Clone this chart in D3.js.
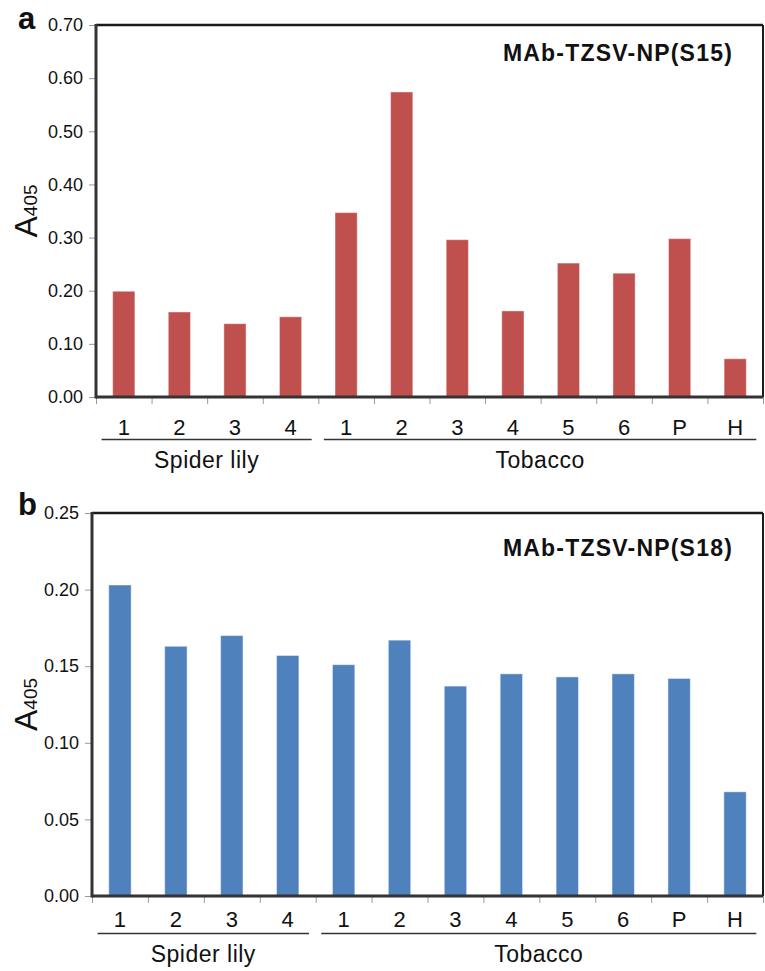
<!DOCTYPE html>
<html>
<head>
<meta charset="utf-8">
<script src="https://cdn.jsdelivr.net/npm/d3@7"></script>
<style>
  body { margin: 0; background: #fff; }
  svg text { font-family: "Liberation Sans", Arial, sans-serif; fill: #111; }
  .tick line { stroke: #999; }
</style>
</head>
<body>
<script>
// categories along the x axis (same for both panels)
var categories = ["1", "2", "3", "4", "1", "2", "3", "4", "5", "6", "P", "H"];
var groupNames = ["Spider lily", "Tobacco"];
var groupStart = [0, 4];
var groupEnd = [3, 11];

// A405 readings, panel a (S15) and panel b (S18)
var valuesS15 = [0.199, 0.160, 0.138, 0.151, 0.347, 0.574, 0.296, 0.162, 0.252, 0.233, 0.298, 0.072];
var valuesS18 = [0.203, 0.163, 0.170, 0.157, 0.151, 0.167, 0.137, 0.145, 0.143, 0.145, 0.142, 0.068];

var yTicksA = [0, 0.1, 0.2, 0.3, 0.4, 0.5, 0.6, 0.7];
var yTicksB = [0, 0.05, 0.1, 0.15, 0.2, 0.25];

var svg = d3.select("body").append("svg")
  .attr("width", 765)
  .attr("height", 971);

drawPanel({
  letter: "a", title: "MAb-TZSV-NP(S15)", values: valuesS15, ticks: yTicksA,
  color: "#C0504D", left: 96, right: 763, top: 25, bottom: 397,
  labelPad: 22, lineOff: 42.5, groupOff: 71, titleOff: 36, letterOff: 4
});
drawPanel({
  letter: "b", title: "MAb-TZSV-NP(S18)", values: valuesS18, ticks: yTicksB,
  color: "#4F81BD", left: 92, right: 763, top: 513, bottom: 896,
  labelPad: 15.5, lineOff: 37.5, groupOff: 65.5, titleOff: 43, letterOff: 2
});

function drawPanel(p) {
  var g = svg.append("g");

  var x = d3.scaleBand()
    .domain(d3.range(categories.length))
    .range([p.left, p.right])
    .paddingInner(0.6)
    .paddingOuter(0.3);

  // edges between categories, for the small grey ticks
  var xEdge = d3.scaleLinear()
    .domain([0, categories.length])
    .range([p.left, p.right]);

  var y = d3.scaleLinear()
    .domain([0, d3.max(p.ticks)])
    .range([p.bottom, p.top]);

  // bars
  g.selectAll("rect.bar")
    .data(p.values)
    .enter().append("rect")
      .attr("class", "bar")
      .attr("x", function(d, i) { return x(i); })
      .attr("width", x.bandwidth())
      .attr("y", function(d) { return y(d); })
      .attr("height", function(d) { return y(0) - y(d); })
      .style("fill", p.color)
      .style("stroke", "rgba(255,255,255,0.45)")
      .style("stroke-width", 1);

  // y axis
  var yAxis = g.append("g")
    .attr("transform", "translate(" + p.left + ",0)")
    .call(d3.axisLeft(y)
      .tickValues(p.ticks)
      .tickFormat(d3.format(".2f"))
      .tickSize(7)
      .tickPadding(6));
  yAxis.select(".domain").remove();
  yAxis.selectAll("text").style("font-size", "18px");

  // x edge ticks
  var xTicks = g.append("g")
    .attr("transform", "translate(0," + p.bottom + ")")
    .call(d3.axisBottom(xEdge)
      .tickValues(d3.range(categories.length + 1))
      .tickFormat("")
      .tickSize(7));
  xTicks.select(".domain").remove();

  // category labels
  var xAxis = g.append("g")
    .attr("transform", "translate(0," + p.bottom + ")")
    .call(d3.axisBottom(x)
      .tickFormat(function(i) { return categories[i]; })
      .tickSize(0)
      .tickPadding(p.labelPad));
  xAxis.select(".domain").remove();
  xAxis.selectAll("text").style("font-size", "22px");

  // frame
  g.append("line").attr("x1", p.left).attr("x2", p.right).attr("y1", p.top).attr("y2", p.top)
    .style("stroke", "#1a1a1a").style("stroke-width", 2.5);
  g.append("line").attr("x1", p.right).attr("x2", p.right).attr("y1", p.top).attr("y2", p.bottom)
    .style("stroke", "#1a1a1a").style("stroke-width", 2);
  g.append("line").attr("x1", p.left).attr("x2", p.right).attr("y1", p.bottom).attr("y2", p.bottom)
    .style("stroke", "#333").style("stroke-width", 3);
  g.append("line").attr("x1", p.left).attr("x2", p.left).attr("y1", p.top - 1).attr("y2", p.bottom + 1.5)
    .style("stroke", "#333").style("stroke-width", 3);

  // group underlines + names
  for (var k = 0; k < groupNames.length; k++) {
    var x1 = xEdge(groupStart[k] + 0.1),
        x2 = xEdge(groupEnd[k] + 1 - 0.12);
    g.append("line")
      .attr("x1", x1).attr("x2", x2)
      .attr("y1", p.bottom + p.lineOff).attr("y2", p.bottom + p.lineOff)
      .style("stroke", "#333").style("stroke-width", 1.5);
    g.append("text")
      .attr("x", (x1 + x2) / 2)
      .attr("y", p.bottom + p.groupOff)
      .style("text-anchor", "middle")
      .style("font-size", "23px")
      .style("letter-spacing", "0.5px")
      .text(groupNames[k]);
  }

  // title inside the plot
  g.append("text")
    .attr("x", p.right - 30)
    .attr("y", p.top + p.titleOff)
    .style("text-anchor", "end")
    .style("font-size", "23px")
    .style("font-weight", "bold")
    .style("letter-spacing", "1.2px")
    .text(p.title);

  // panel letter
  g.append("text")
    .attr("x", 18)
    .attr("y", p.top + p.letterOff)
    .style("font-size", "31px")
    .style("font-weight", "bold")
    .text(p.letter);

  // y label A405
  var cy = (p.top + p.bottom) / 2;
  var lab = g.append("text")
    .attr("transform", "translate(37," + cy + ") rotate(-90)")
    .style("text-anchor", "middle");
  lab.append("tspan").style("font-size", "32px").text("A");
  lab.append("tspan").style("font-size", "19px").text("405");
}
</script>
</body>
</html>
